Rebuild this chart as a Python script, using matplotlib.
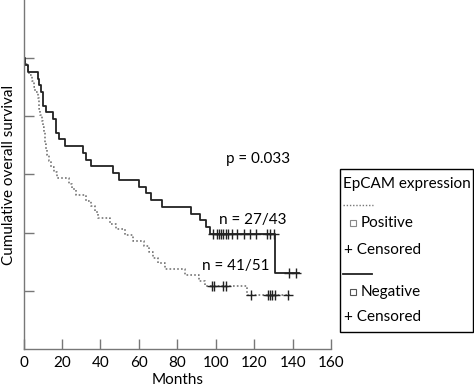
import matplotlib
matplotlib.use("Agg")
import matplotlib.pyplot as plt
from matplotlib.patches import Rectangle
from matplotlib.lines import Line2D

plt.rcParams['font.family'] = ['Lato', 'DejaVu Sans']

# Negative EpCAM (solid): step times (months) and survival after each step
neg_times = [0, 1.0, 2.2, 7.4, 8.1, 9.2, 10.0, 11.6, 15.2, 16.9, 18.3, 21.4, 30.7, 32.3,
             35.1, 46.3, 49.4, 60.3, 63.6, 66.2, 72.2, 87.0, 91.7, 94.8, 96.9, 131.0, 143.0]
neg_surv = [1.0, 0.977, 0.953, 0.930, 0.907, 0.884, 0.837, 0.814, 0.791, 0.744, 0.721, 0.698,
            0.674, 0.651, 0.628, 0.605, 0.581, 0.558, 0.535, 0.512, 0.488, 0.465, 0.442,
            0.419, 0.395, 0.26, 0.26]
neg_cens_t = [98.6, 100.4, 101.7, 102.6, 103.8, 105.2, 106.4, 108.4, 111.2, 114.7, 117.6,
              120.7, 126.8, 128.3, 130.1, 138.0, 141.8]
neg_cens_s = [0.395] * 15 + [0.26] * 2

# Positive EpCAM (dotted)
pos_times = [0, 0.7, 2.1, 3.1, 4.4, 5.4, 6.2, 7.3, 7.9, 8.3, 8.8, 9.6, 10.0, 10.5, 11.0,
             11.4, 11.8, 12.3, 13.1, 14.2, 16.1, 17.4, 23.8, 25.4, 27.5, 32.6, 35.2, 37.0,
             38.6, 44.8, 48.2, 52.8, 56.7, 62.4, 65.3, 67.1, 69.9, 73.6, 83.9, 91.2, 94.3,
             116.0, 138.5]
pos_surv = [1.0, 0.980, 0.961, 0.941, 0.922, 0.902, 0.882, 0.863, 0.843, 0.824, 0.804,
            0.784, 0.765, 0.745, 0.725, 0.706, 0.686, 0.667, 0.647, 0.627, 0.608, 0.588,
            0.569, 0.549, 0.529, 0.510, 0.490, 0.471, 0.451, 0.431, 0.412, 0.392, 0.373,
            0.353, 0.333, 0.314, 0.294, 0.275, 0.255, 0.235, 0.216, 0.185, 0.185]
pos_cens_t = [97.8, 99.1, 103.8, 105.2, 118.5, 127.1, 128.3, 129.4, 130.6, 137.5]
pos_cens_s = [0.216] * 4 + [0.185] * 6

x_ticks = [0, 20, 40, 60, 80, 100, 120, 140, 160]
y_ticks = [0.2, 0.4, 0.6, 0.8, 1.0]

FS = 11
W, H = 474, 387
fig = plt.figure(figsize=(W / 100, H / 100), dpi=100)
ax = fig.add_axes([23.5 / W, 1 - 349 / H, (331.2 - 23.5) / W, 349 / H])

ax.step(pos_times, pos_surv, where='post', color='#777777', lw=1.2, ls=(0, (1, 1.3)))
ax.step(neg_times, neg_surv, where='post', color='#222222', lw=1.3)
ax.plot(pos_cens_t, pos_cens_s, ls='none', marker='+', ms=7, mew=1.0, color='#222222')
ax.plot(neg_cens_t, neg_cens_s, ls='none', marker='+', ms=7, mew=1.0, color='#222222')

ax.text(105.5, 0.653, "p = 0.033", fontsize=FS, va='center', ha='left')
ax.text(101.5, 0.443, "n = 27/43", fontsize=FS, va='center', ha='left')
ax.text(93.0, 0.285, "n = 41/51", fontsize=FS, va='center', ha='left')

ax.set_xlim(0, 160)
ax.set_ylim(0, 1.2)
ax.set_xticks(x_ticks)
ax.set_yticks(y_ticks)
ax.tick_params(direction='in', length=7, width=1, color='#777777', labelsize=FS, pad=5)
ax.tick_params(axis='y', labelleft=False)
for s in ['top', 'right']:
    ax.spines[s].set_visible(False)
for s in ['left', 'bottom']:
    ax.spines[s].set_color('#777777')
    ax.spines[s].set_linewidth(1)

ax.set_xlabel("Months", fontsize=FS)
ax.xaxis.set_label_coords(0.5, -0.068)
ax.set_ylabel("Cumulative overall survival", fontsize=FS)
ax.yaxis.set_label_coords(-0.025, 0.5)

# legend box drawn by hand, in pixel positions of the figure
def fx(px):
    return px / W

def fy(py):
    return 1 - py / H

fig.add_artist(Rectangle((fx(340), fy(332)), (473 - 340) / W, (332 - 169) / H,
                         transform=fig.transFigure, fill=False, ec='black', lw=1))
fig.text(fx(343), fy(184), "EpCAM expression", fontsize=FS, va='center', ha='left')
fig.add_artist(Line2D([fx(343), fx(373)], [fy(205), fy(205)], transform=fig.transFigure,
                      color='#777777', lw=1.0, ls=(0, (1, 1.3))))
fig.add_artist(Line2D([fx(353)], [fy(223)], transform=fig.transFigure, marker='s', ms=5,
                      mfc='none', mec='#888888', mew=0.8))
fig.text(fx(361), fy(223), "Positive", fontsize=FS, va='center', ha='left')
fig.text(fx(344), fy(250), "+ Censored", fontsize=FS, va='center', ha='left')
fig.add_artist(Line2D([fx(343), fx(372)], [fy(274), fy(274)], transform=fig.transFigure,
                      color='#222222', lw=1.3))
fig.add_artist(Line2D([fx(353)], [fy(292)], transform=fig.transFigure, marker='s', ms=5,
                      mfc='none', mec='#555555', mew=0.8))
fig.text(fx(361), fy(292), "Negative", fontsize=FS, va='center', ha='left')
fig.text(fx(344), fy(317), "+ Censored", fontsize=FS, va='center', ha='left')

fig.savefig("out.png", dpi=100)
